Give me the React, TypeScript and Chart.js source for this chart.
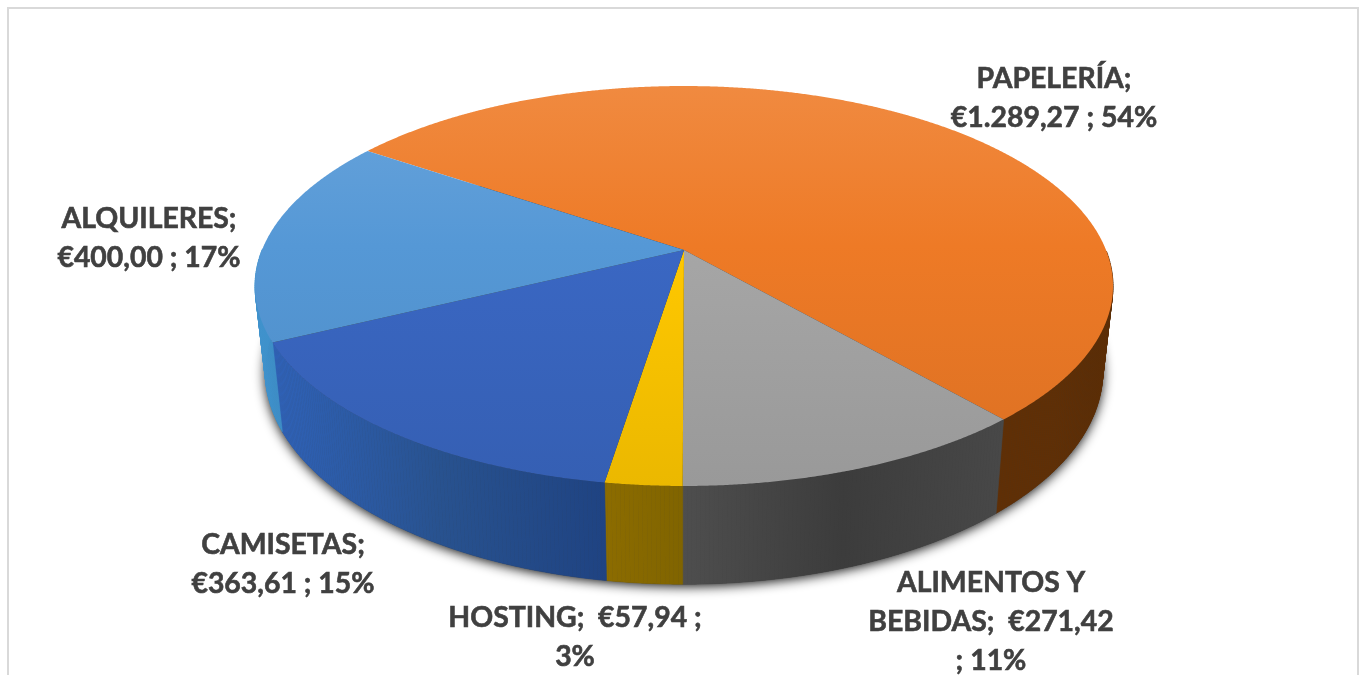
import React, { useEffect, useRef } from "react";
import { Chart, registerables } from "chart.js";

Chart.register(...registerables);

const categories = ["PAPELERÍA", "ALIMENTOS Y BEBIDAS", "HOSTING", "CAMISETAS", "ALQUILERES"];
const values = [1289.27, 271.42, 57.94, 363.61, 400.0];
const topColors = ["#EE7A26", "#A6A6A6", "#FFC800", "#3A67C3", "#5598D6"];
const wallLeft = ["#5F2F06", "#4E4E4E", "#8C6C00", "#2F62B8", "#3F92CC"];
const wallMid = ["#5F2F06", "#3C3C3C", "#866800", "#28528F", "#3C8DC8"];
const wallRight = ["#5A2C05", "#484848", "#806400", "#1F4382", "#3A88C4"];
const dataLabels = [
  ["PAPELERÍA;", "€1.289,27 ; 54%"],
  ["ALIMENTOS Y", "BEBIDAS;  €271,42", "; 11%"],
  ["HOSTING;  €57,94 ;", "3%"],
  ["CAMISETAS;", "€363,61 ; 15%"],
  ["ALQUILERES;", "€400,00 ; 17%"],
];

const W = 1362;
const H = 675;
const TOP = { cx: 684, cy: 250, b: 422, a: 193.5, k: 0.18 };
const BOTTOM = { cx: 684, cy: 333, b: 412, a: 206, k: 0.18 };
const LABEL_POS = [
  { x: 1054, y: 88 },
  { x: 991, y: 592 },
  { x: 575, y: 627 },
  { x: 283, y: 554 },
  { x: 149, y: 228 },
];
const LINE_HEIGHT = 39;

type Ring = typeof TOP;
const project = (r: Ring, ang: number) => {
  const u = Math.cos(ang);
  const v = Math.sin(ang);
  const d = 1 - r.k * v;
  return { x: r.cx + (r.b * u) / d, y: r.cy + (r.a * v) / d };
};

const hex = (c: string) => [1, 3, 5].map((i) => parseInt(c.slice(i, i + 2), 16));
const mix = (c: string, t: number[], f: number) => {
  const p = hex(c);
  return `rgb(${p.map((v, i) => Math.round(v + (t[i] - v) * f)).join(",")})`;
};

const pie3d = {
  id: "pie3d",
  beforeDatasetsDraw(chart: any) {
    const ctx: CanvasRenderingContext2D = chart.ctx;
    const arcs = chart.getDatasetMeta(0).data;
    const step = Math.PI / 720;

    // soft shadow under the base ring
    ctx.save();
    ctx.shadowColor = "rgba(0,0,0,0.95)";
    ctx.shadowBlur = 12;
    ctx.shadowOffsetY = 2;
    ctx.fillStyle = "#333";
    ctx.beginPath();
    for (let a = 0; a < Math.PI * 2; a += step) {
      const p = project(BOTTOM, a);
      if (a === 0) ctx.moveTo(p.x, p.y);
      else ctx.lineTo(p.x, p.y);
    }
    ctx.closePath();
    ctx.fill();
    ctx.restore();

    // walls (only the half facing the viewer can be seen)
    arcs.forEach((arc: any, i: number) => {
      const { startAngle, endAngle } = arc;
      const xs: number[] = [];
      for (let a = startAngle; a <= endAngle; a += step * 4) {
        if (Math.sin(a) > 0) xs.push(project(TOP, a).x, project(BOTTOM, a).x);
      }
      xs.push(project(TOP, endAngle).x, project(BOTTOM, endAngle).x);
      const g = ctx.createLinearGradient(Math.min(...xs), 0, Math.max(...xs), 0);
      g.addColorStop(0, wallLeft[i]);
      g.addColorStop(0.5, wallMid[i]);
      g.addColorStop(1, wallRight[i]);
      ctx.fillStyle = g;
      ctx.strokeStyle = g;
      ctx.lineWidth = 0.6;
      for (let a = startAngle; a < endAngle; a += step * 2) {
        if (Math.sin(a) <= 0) continue;
        const e = Math.min(a + step * 2, endAngle);
        const p = [project(TOP, a), project(TOP, e), project(BOTTOM, e), project(BOTTOM, a)];
        ctx.beginPath();
        ctx.moveTo(p[0].x, p[0].y);
        p.slice(1).forEach((q) => ctx.lineTo(q.x, q.y));
        ctx.closePath();
        ctx.fill();
        ctx.stroke();
      }
    });

    // top face
    arcs.forEach((arc: any, i: number) => {
      const c = topColors[i];
      const g = ctx.createLinearGradient(0, 86, 0, 486);
      g.addColorStop(0, mix(c, [255, 255, 255], 0.12));
      g.addColorStop(0.4, c);
      g.addColorStop(1, mix(c, [0, 0, 0], 0.08));
      ctx.fillStyle = g;
      ctx.beginPath();
      ctx.moveTo(TOP.cx, TOP.cy);
      for (let a = arc.startAngle; a < arc.endAngle; a += step) {
        const p = project(TOP, a);
        ctx.lineTo(p.x, p.y);
      }
      const p = project(TOP, arc.endAngle);
      ctx.lineTo(p.x, p.y);
      ctx.closePath();
      ctx.fill();
    });

    // data labels
    ctx.fillStyle = "#404040";
    ctx.strokeStyle = "#404040";
    ctx.lineWidth = 0.6;
    ctx.font = 'bold 28.4px Lato, "Open Sans", sans-serif';
    ctx.textAlign = "center";
    ctx.textBaseline = "alphabetic";
    dataLabels.forEach((lines, i) => {
      lines.forEach((t, j) => {
        const y = LABEL_POS[i].y + j * LINE_HEIGHT;
        ctx.fillText(t, LABEL_POS[i].x, y);
        ctx.strokeText(t, LABEL_POS[i].x, y);
      });
    });
    return false;
  },
};

const frame = {
  id: "frame",
  beforeDraw(chart: any) {
    const ctx: CanvasRenderingContext2D = chart.ctx;
    ctx.save();
    ctx.fillStyle = "#fff";
    ctx.fillRect(0, 0, W, H);
    ctx.strokeStyle = "#D9D9D9";
    ctx.lineWidth = 2;
    ctx.beginPath();
    ctx.moveTo(8, H + 5);
    ctx.lineTo(8, 8);
    ctx.lineTo(1358, 8);
    ctx.lineTo(1358, H + 5);
    ctx.stroke();
    ctx.restore();
  },
};

export default function App() {
  const ref = useRef<HTMLCanvasElement>(null);
  useEffect(() => {
    const chart = new Chart(ref.current!, {
      type: "pie",
      data: {
        labels: categories,
        datasets: [{ data: values, backgroundColor: topColors, borderWidth: 0 }],
      },
      options: {
        responsive: false,
        animation: false,
        rotation: -55.7,
        plugins: { legend: { display: false }, tooltip: { enabled: false } },
      },
      plugins: [frame, pie3d],
    } as any);
    return () => chart.destroy();
  }, []);
  return (
    <div style={{ position: "fixed", left: 0, top: 0, width: W, height: H }}>
      <canvas ref={ref} width={W} height={H} style={{ display: "block" }} />
    </div>
  );
}
